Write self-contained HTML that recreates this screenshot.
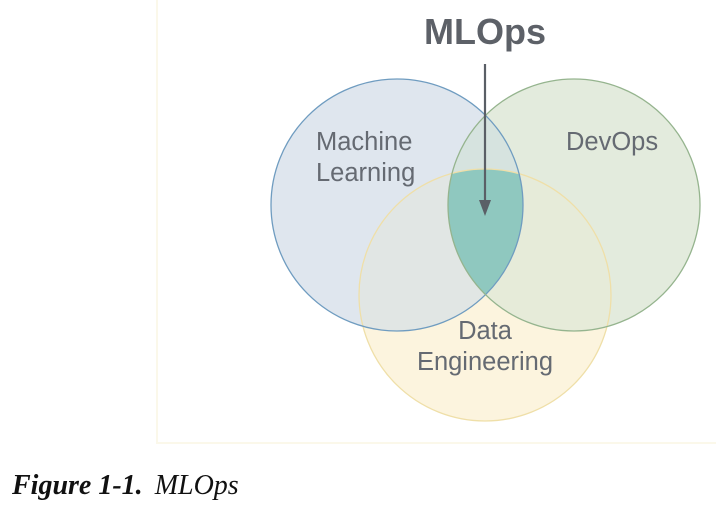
<!DOCTYPE html>
<html><head><meta charset="utf-8"><style>
html,body{margin:0;padding:0;background:#fff;width:716px;height:506px;overflow:hidden}
</style></head><body>
<svg width="716" height="506" viewBox="0 0 716 506" xmlns="http://www.w3.org/2000/svg">
<defs>
<clipPath id="cml"><circle cx="397" cy="205" r="126"/></clipPath>
<clipPath id="cdv"><circle cx="574" cy="205" r="126"/></clipPath>
<clipPath id="cde"><circle cx="485" cy="295" r="126"/></clipPath>
</defs>
<path d="M157 0 V443 H716" fill="none" stroke="#fbf8ea" stroke-width="2"/>
<circle cx="485" cy="295" r="126" fill="#fcf4de"/>
<circle cx="397" cy="205" r="126" fill="#dfe6ee"/>
<circle cx="574" cy="205" r="126" fill="#e3ebdd"/>
<g clip-path="url(#cde)">
  <circle cx="397" cy="205" r="126" fill="#e1e6e4"/>
  <circle cx="574" cy="205" r="126" fill="#e6ebd9"/>
</g>
<g clip-path="url(#cml)"><circle cx="574" cy="205" r="126" fill="#d6e3df"/></g>
<g clip-path="url(#cml)"><g clip-path="url(#cdv)"><circle cx="485" cy="295" r="126" fill="#8fc8bf"/></g></g>
<circle cx="485" cy="295" r="126" fill="none" stroke="#efdfa8" stroke-width="1.3"/>
<circle cx="397" cy="205" r="126" fill="none" stroke="#6f9cc0" stroke-width="1.3"/>
<circle cx="574" cy="205" r="126" fill="none" stroke="#95b48e" stroke-width="1.3"/>
<g font-family="'Liberation Sans',sans-serif" fill="#656a72" font-size="25.5">
<text x="316" y="150">Machine</text>
<text x="316" y="181">Learning</text>
<text x="566" y="150">DevOps</text>
<text x="485" y="339" text-anchor="middle">Data</text>
<text x="485" y="370" text-anchor="middle">Engineering</text>
</g>
<text x="485" y="44" text-anchor="middle" font-family="'Liberation Sans',sans-serif" font-weight="bold" font-size="36" fill="#5d6168">MLOps</text>
<line x1="485" y1="64" x2="485" y2="202" stroke="#5a5f66" stroke-width="2.2"/>
<polygon points="479,200 491,200 485,216" fill="#5a5f66"/>
<text x="12" y="494" font-family="'Liberation Serif',serif" font-size="28" fill="#111"><tspan font-weight="bold" font-style="italic">Figure 1-1.</tspan><tspan font-style="italic" dx="12">MLOps</tspan></text>
</svg>
</body></html>
